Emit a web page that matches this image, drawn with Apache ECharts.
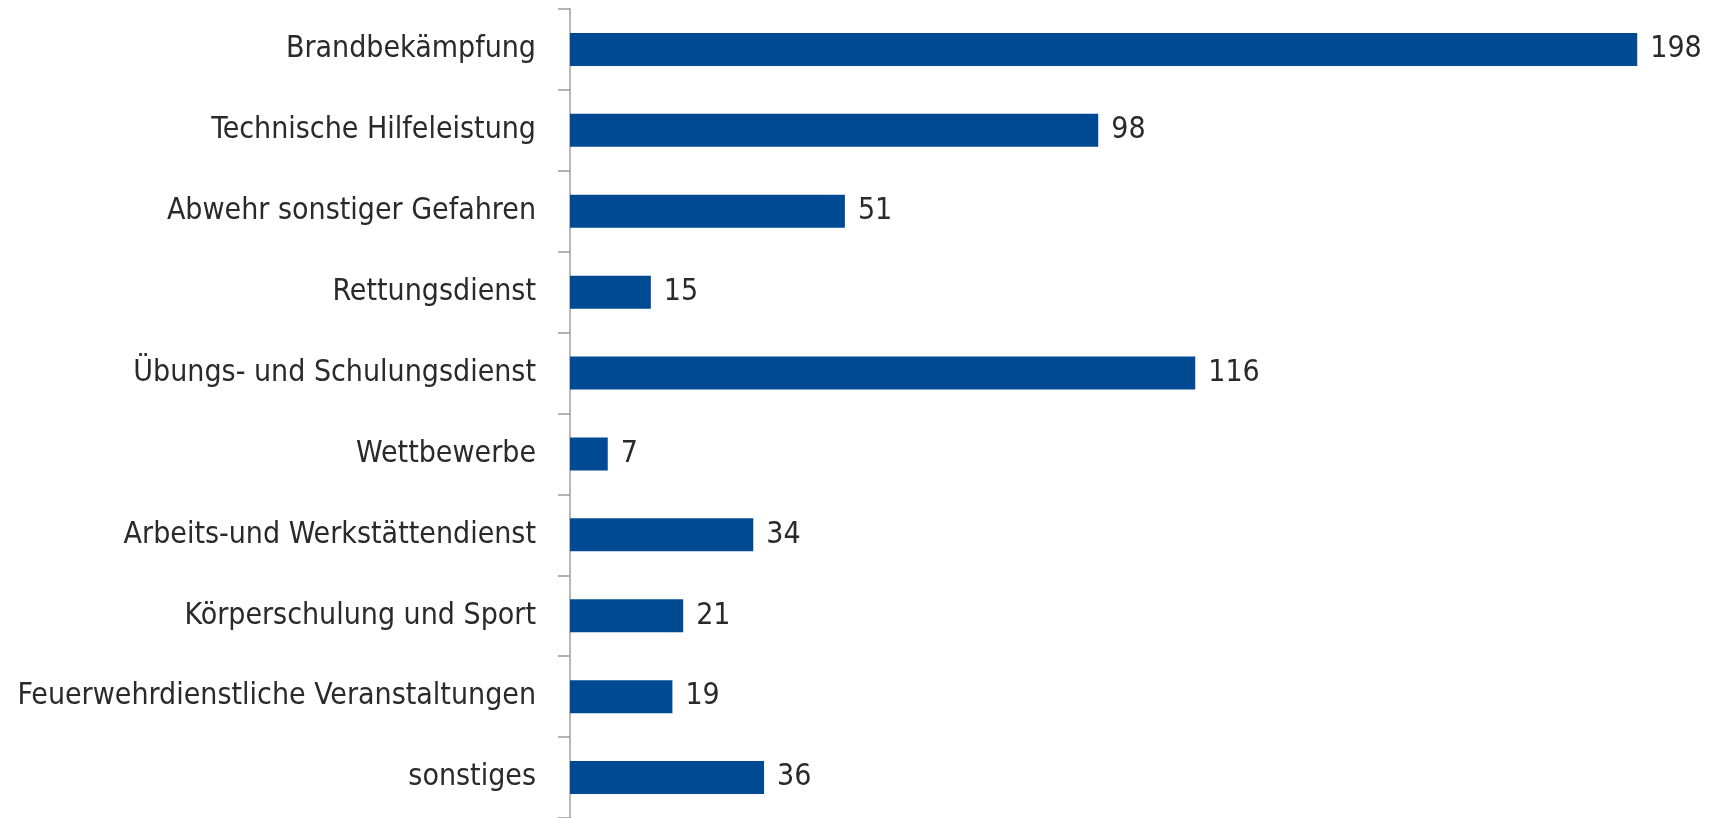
<!DOCTYPE html>
<html><head><meta charset="utf-8">
<script src="https://cdn.jsdelivr.net/npm/echarts@6/dist/echarts.min.js"></script>
<style>html,body{margin:0;padding:0;background:#fff}#c{width:1709px;height:818px}</style>
</head><body><div id="c"></div>
<script>
const categories = ["Brandbekämpfung","Technische Hilfeleistung","Abwehr sonstiger Gefahren","Rettungsdienst","Übungs- und Schulungsdienst","Wettbewerbe","Arbeits-und Werkstättendienst","Körperschulung und Sport","Feuerwehrdienstliche Veranstaltungen","sonstiges"];
const values = [198,98,51,15,116,7,34,21,19,36];
const FONT = "'Liberation Sans Narrow','DejaVu Sans Condensed','Open Sans',sans-serif";
const chart = echarts.init(document.getElementById('c'));
chart.setOption({
  animation:false,
  grid:{left:570,right:61,top:9,bottom:-1,containLabel:false},
  xAxis:{type:'value',min:0,max:200,show:false},
  yAxis:{type:'category',inverse:true,data:categories,
    axisLine:{show:true,lineStyle:{color:'#b8b8b8',width:2}},
    axisTick:{show:true,length:12,lineStyle:{color:'#9a9a9a',width:1.5}},
    axisLabel:{margin:34,color:'#2a2a2a',fontSize:30,fontFamily:FONT},
    splitLine:{show:false}},
  series:[{type:'bar',data:values,barWidth:33,
    itemStyle:{color:'#004a93'},
    label:{show:true,position:'right',distance:13,color:'#2a2a2a',fontSize:30,fontFamily:FONT}}]
});
</script></body></html>
